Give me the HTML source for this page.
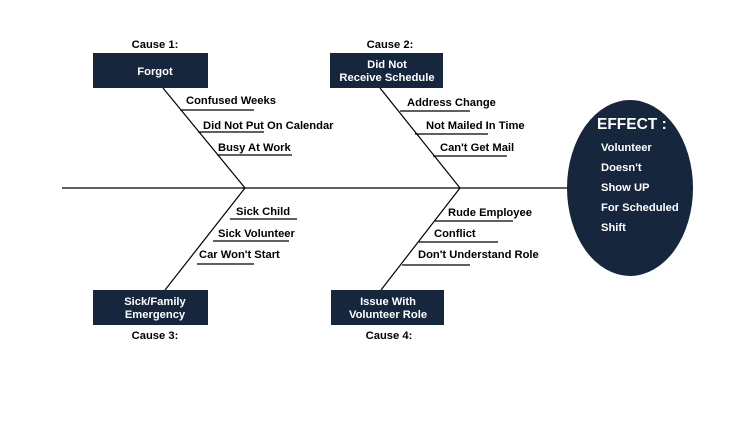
<!DOCTYPE html>
<html><head><style>body{margin:0;background:#fff}</style></head><body>
<svg width="745" height="421" viewBox="0 0 745 421" xmlns="http://www.w3.org/2000/svg" font-family="Liberation Sans, sans-serif" font-weight="bold" font-size="11.2">
<rect width="745" height="421" fill="#fff"/>
<g stroke="#000" stroke-width="1.2" fill="none">
<line x1="62" y1="188" x2="570" y2="188"/>
<line x1="163" y1="88" x2="245" y2="188"/>
<line x1="380" y1="88" x2="460" y2="188"/>
<line x1="245" y1="188" x2="165" y2="290"/>
<line x1="460" y1="188" x2="381" y2="290"/>
<line x1="180" y1="110" x2="254" y2="110"/>
<line x1="198" y1="132" x2="264" y2="132"/>
<line x1="217" y1="155" x2="292" y2="155"/>
<line x1="400" y1="111" x2="470" y2="111"/>
<line x1="415" y1="134" x2="488" y2="134"/>
<line x1="433" y1="156" x2="507" y2="156"/>
<line x1="230" y1="219" x2="297" y2="219"/>
<line x1="213" y1="241" x2="289" y2="241"/>
<line x1="197" y1="264" x2="254" y2="264"/>
<line x1="435" y1="221" x2="513" y2="221"/>
<line x1="419" y1="242" x2="498" y2="242"/>
<line x1="402" y1="265" x2="470" y2="265"/>
</g>
<g fill="#15263d">
<rect x="93" y="53" width="115" height="35"/>
<rect x="330" y="53" width="113" height="35"/>
<rect x="93" y="290" width="115" height="35"/>
<rect x="331" y="290" width="113" height="35"/>
<ellipse cx="630" cy="188" rx="63" ry="88"/>
</g>
<g fill="#000" text-anchor="middle">
<text x="155" y="48">Cause 1:</text>
<text x="390" y="48">Cause 2:</text>
<text x="155" y="339">Cause 3:</text>
<text x="389" y="339">Cause 4:</text>
</g>
<g fill="#fff" text-anchor="middle">
<text x="155" y="75">Forgot</text>
<text x="387" y="68">Did Not</text>
<text x="387" y="81">Receive Schedule</text>
<text x="155" y="305">Sick/Family</text>
<text x="155" y="318">Emergency</text>
<text x="388" y="305">Issue With</text>
<text x="388" y="318">Volunteer Role</text>
</g>
<g fill="#000">
<text x="186" y="104">Confused Weeks</text>
<text x="203" y="129">Did Not Put On Calendar</text>
<text x="218" y="151">Busy At Work</text>
<text x="407" y="106">Address Change</text>
<text x="426" y="129">Not Mailed In Time</text>
<text x="440" y="151">Can't Get Mail</text>
<text x="236" y="215">Sick Child</text>
<text x="218" y="237">Sick Volunteer</text>
<text x="199" y="258">Car Won't Start</text>
<text x="448" y="216">Rude Employee</text>
<text x="434" y="237">Conflict</text>
<text x="418" y="258">Don't Understand Role</text>
</g>
<g fill="#fff">
<text x="597" y="129" font-size="15.5">EFFECT :</text>
<text x="601" y="151">Volunteer</text>
<text x="601" y="171">Doesn't</text>
<text x="601" y="191">Show UP</text>
<text x="601" y="211">For Scheduled</text>
<text x="601" y="231">Shift</text>
</g>
</svg>
</body></html>
